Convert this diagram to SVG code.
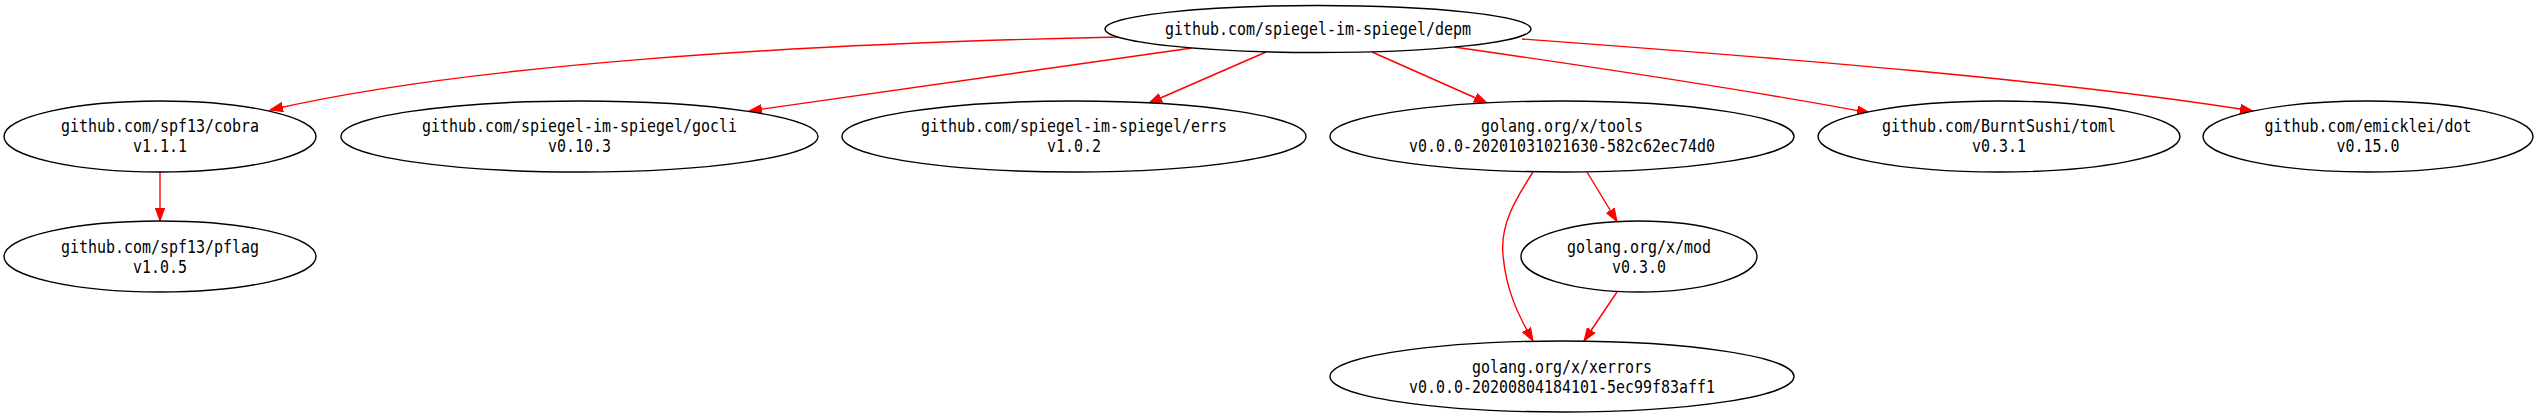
<svg xmlns="http://www.w3.org/2000/svg" width="2534" height="418" viewBox="0 0 2534 418">
<style>
.node ellipse{fill:#ffffff;stroke:#000000;stroke-width:1.4}
.node text{font-family:"DejaVu Sans Mono","Liberation Mono",monospace;font-size:17px;fill:#000000;text-anchor:middle}
.edges path{fill:none;stroke:#ff0000;stroke-width:1.4;marker-end:url(#arr)}
</style>
<defs>
<marker id="arr" markerUnits="userSpaceOnUse" markerWidth="16" markerHeight="12" refX="13" refY="5" orient="auto">
<path d="M0,0.3 L13,5 L0,9.7 Z" fill="#ff0000" stroke="#ff0000" stroke-width="1"/>
</marker>
</defs>
<rect width="2534" height="418" fill="#ffffff"/>
<g class="edges" id="edges">
<path d="M1120,37 C780,44 460,66 270,110"/>
<path d="M1192,48 L749,111"/>
<path d="M1266,52 L1149,103"/>
<path d="M1372,52 L1487,103"/>
<path d="M1454,47 C1600,68 1750,90 1870,113"/>
<path d="M1522,39 C1780,58 2060,80 2253,111"/>
<path d="M160,172 L160,221"/>
<path d="M1587,172 L1617,221.5"/>
<path d="M1533,172 C1515,200 1500,225 1503,255 C1506,290 1518,315 1533,341"/>
<path d="M1617,292 L1584,341"/>
</g>
<g class="node" id="root">
<ellipse cx="1318" cy="29" rx="213" ry="23.5"/>
<text x="1318" y="34.5" textLength="306" lengthAdjust="spacingAndGlyphs">github.com/spiegel-im-spiegel/depm</text>
</g>
<g class="node" id="cobra">
<ellipse cx="160" cy="136.5" rx="156" ry="35.5"/>
<text x="160" y="132" textLength="198" lengthAdjust="spacingAndGlyphs">github.com/spf13/cobra</text>
<text x="160" y="152" textLength="54" lengthAdjust="spacingAndGlyphs">v1.1.1</text>
</g>
<g class="node" id="gocli">
<ellipse cx="579.5" cy="136.5" rx="238.5" ry="35.5"/>
<text x="579.5" y="132" textLength="315" lengthAdjust="spacingAndGlyphs">github.com/spiegel-im-spiegel/gocli</text>
<text x="579.5" y="152" textLength="63" lengthAdjust="spacingAndGlyphs">v0.10.3</text>
</g>
<g class="node" id="errs">
<ellipse cx="1074" cy="136.5" rx="232" ry="35.5"/>
<text x="1074" y="132" textLength="306" lengthAdjust="spacingAndGlyphs">github.com/spiegel-im-spiegel/errs</text>
<text x="1074" y="152" textLength="54" lengthAdjust="spacingAndGlyphs">v1.0.2</text>
</g>
<g class="node" id="tools">
<ellipse cx="1562" cy="136.5" rx="232" ry="35.5"/>
<text x="1562" y="132" textLength="162" lengthAdjust="spacingAndGlyphs">golang.org/x/tools</text>
<text x="1562" y="152" textLength="306" lengthAdjust="spacingAndGlyphs">v0.0.0-20201031021630-582c62ec74d0</text>
</g>
<g class="node" id="toml">
<ellipse cx="1999" cy="136.5" rx="181" ry="35.5"/>
<text x="1999" y="132" textLength="234" lengthAdjust="spacingAndGlyphs">github.com/BurntSushi/toml</text>
<text x="1999" y="152" textLength="54" lengthAdjust="spacingAndGlyphs">v0.3.1</text>
</g>
<g class="node" id="dot">
<ellipse cx="2368" cy="136.5" rx="165" ry="35.5"/>
<text x="2368" y="132" textLength="207" lengthAdjust="spacingAndGlyphs">github.com/emicklei/dot</text>
<text x="2368" y="152" textLength="63" lengthAdjust="spacingAndGlyphs">v0.15.0</text>
</g>
<g class="node" id="pflag">
<ellipse cx="160" cy="256.5" rx="156" ry="35.5"/>
<text x="160" y="252.5" textLength="198" lengthAdjust="spacingAndGlyphs">github.com/spf13/pflag</text>
<text x="160" y="272.5" textLength="54" lengthAdjust="spacingAndGlyphs">v1.0.5</text>
</g>
<g class="node" id="mod">
<ellipse cx="1639" cy="256.5" rx="118" ry="35.5"/>
<text x="1639" y="252.5" textLength="144" lengthAdjust="spacingAndGlyphs">golang.org/x/mod</text>
<text x="1639" y="272.5" textLength="54" lengthAdjust="spacingAndGlyphs">v0.3.0</text>
</g>
<g class="node" id="xerrors">
<ellipse cx="1562" cy="376.5" rx="232" ry="35.5"/>
<text x="1562" y="372.5" textLength="180" lengthAdjust="spacingAndGlyphs">golang.org/x/xerrors</text>
<text x="1562" y="392.5" textLength="306" lengthAdjust="spacingAndGlyphs">v0.0.0-20200804184101-5ec99f83aff1</text>
</g>
</svg>
